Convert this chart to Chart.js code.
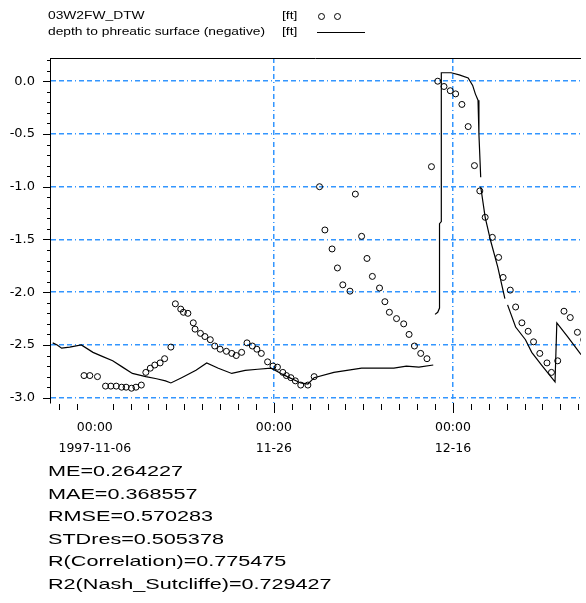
<!DOCTYPE html>
<html lang="en">
<head>
  <meta charset="UTF-8">
  <title>Depth to phreatic surface</title>
  <script src="https://cdn.jsdelivr.net/npm/chart.js"></script>
  <style>
    body { margin: 0; background: #fff; }
    #wrap { position: relative; width: 586px; height: 603px; }
    #wrap canvas { position: absolute; left: 0; top: 0; }
    .txt { position: absolute; white-space: nowrap; font-family: "Liberation Sans", Arial, sans-serif;
           color: #000; transform-origin: 0 50%; }
    .legend { font-size: 10px; line-height: 14px; transform: scaleX(1.38); }
    .stat { font-size: 15px; line-height: 22px; left: 48px; transform: scaleX(1.44); }
    .mark { position: absolute; }
  </style>
</head>
<body>
<div id="wrap">
  <canvas id="depthChart" width="586" height="603"></canvas>

  <!-- legend -->
  <div class="txt legend" style="left:48px; top:9px;">03W2FW_DTW</div>
  <div class="txt legend" style="left:282px; top:9px;">[ft]</div>
  <div class="mark" style="left:318px; top:13px; width:5px; height:5px; border:1px solid #000; border-radius:50%;"></div>
  <div class="mark" style="left:334px; top:13px; width:5px; height:5px; border:1px solid #000; border-radius:50%;"></div>
  <div class="txt legend" style="left:48px; top:25px;">depth to phreatic surface (negative)</div>
  <div class="txt legend" style="left:282px; top:25px;">[ft]</div>
  <div class="mark" style="left:317px; top:32px; width:48px; height:1px; background:#000;"></div>

  <!-- statistics -->
  <div id="stats"></div>
</div>

<script>
  // days after 1997-11-06 00:00
  var obsDays = [-1.2, -0.55, 0.3,
    1.2, 1.8, 2.4, 3.0, 3.5, 4.1, 4.6, 5.2,
    5.7, 6.2, 6.7, 7.3, 7.8, 8.5,
    9.0, 9.6, 9.9, 10.4, 11.0, 11.2, 11.8, 12.3, 12.9, 13.4, 14.0, 14.7, 15.3, 15.8,
    16.4, 17.0, 17.6, 18.1, 18.6, 19.3, 19.9, 20.4, 21.0, 21.4, 21.9, 22.4, 23.0, 23.8, 24.5,
    25.1, 25.7, 26.5, 27.1, 27.7, 28.5,
    29.1, 29.8, 30.4, 31.0, 31.8, 32.4, 32.9, 33.7, 34.5, 35.1, 35.7, 36.4, 37.1,
    37.6, 38.3, 39.0, 39.7, 40.3, 41.0, 41.7, 42.4, 43.0, 43.6, 44.4, 45.1, 45.6, 46.4,
    47.0, 47.7, 48.4, 49.0, 49.7, 50.5, 51.0, 51.7, 52.4, 53.1, 53.9, 54.6];
  var obsDepth = [-2.79, -2.79, -2.80,
    -2.89, -2.89, -2.89, -2.90, -2.90, -2.91, -2.90, -2.88,
    -2.76, -2.72, -2.69, -2.67, -2.63, -2.52,
    -2.11, -2.16, -2.19, -2.20, -2.29, -2.35, -2.39, -2.42, -2.45, -2.51, -2.54, -2.56, -2.58, -2.60,
    -2.57, -2.48, -2.51, -2.54, -2.58, -2.66, -2.70, -2.71, -2.76, -2.79, -2.81, -2.84, -2.88, -2.88, -2.80,
    -1.00, -1.41, -1.59, -1.77, -1.93, -1.99,
    -1.07, -1.47, -1.68, -1.85, -1.96, -2.09, -2.19, -2.25, -2.30, -2.40, -2.51, -2.58, -2.63,
    -0.81, 0.00, -0.05, -0.09, -0.12, -0.22, -0.43, -0.80, -1.04, -1.29, -1.48, -1.67, -1.86, -1.98,
    -2.14, -2.29, -2.37, -2.47, -2.58, -2.67, -2.76, -2.65, -2.18, -2.24, -2.38, -2.45];

  var simDays = [-4.7, -4.2, -3.7, -2.8, -1.5, -0.2, 0.9, 2.0, 3.1, 4.2, 5.7, 6.9, 7.9, 8.5,
    9.7, 11.3, 12.5, 13.8, 15.3, 16.8, 18.2, 19.7, 20.8, 21.5, 23.0, 23.8, 24.5, 26.7,
    29.8, 33.4, 34.8, 36.2, 37.8, 37.9,
    38.0, 38.3, 38.5, 38.5, 38.7, 38.7, 39.8, 40.7, 41.7, 42.2, 42.5, 42.8, 42.9, 43.1, 43.1,
    43.1, 43.6, 44.2, 45.0, 45.8, 46.0,
    46.1, 47.0, 48.1, 48.8, 49.9, 51.4, 51.6, 52.8, 54.2, 55.0];
  var simDepth = [-2.48, -2.50, -2.53, -2.52, -2.50, -2.57, -2.61, -2.65, -2.71, -2.77, -2.80, -2.82, -2.84, -2.86,
    -2.81, -2.74, -2.67, -2.72, -2.77, -2.74, -2.73, -2.72, -2.77, -2.80, -2.86, -2.87, -2.81, -2.76,
    -2.72, -2.72, -2.70, -2.71, -2.69, null,
    -2.21, -2.19, -2.15, -1.35, -1.33, 0.08, 0.08, 0.06, 0.03, -0.04, -0.12, -0.18, -0.50, -0.91, null,
    -1.00, -1.29, -1.51, -1.76, -2.06, null,
    -2.12, -2.33, -2.45, -2.57, -2.69, -2.85, -2.29, -2.42, -2.58, -2.65];

  var xTickLabels = { 0: ['00:00', '1997-11-06'], 20: ['00:00', '11-26'], 40: ['00:00', '12-16'] };

  var statLines = ['ME=0.264227', 'MAE=0.368557', 'RMSE=0.570283', 'STDres=0.505378',
    'R(Correlation)=0.775475', 'R2(Nash_Sutcliffe)=0.729427'];

  // statistics text below the chart
  var stats = document.getElementById('stats');
  statLines.forEach(function(s, i) {
    var d = document.createElement('div');
    d.className = 'txt stat';
    d.style.top = (460 + i * 22.6) + 'px';
    d.textContent = s;
    stats.appendChild(d);
  });

  function toPoints(xs, ys) {
    return xs.map(function(v, i) { return { x: v, y: ys[i] }; });
  }

  var gridBlue = '#3396ff';
  var gridDash = [5, 3, 5, 3, 5, 3, 1, 3];

  // frame line on top and the small tick marks of both axes
  var axisMarks = {
    id: 'axisMarks',
    afterDraw: function(chart) {
      var ctx = chart.ctx, a = chart.chartArea, x = chart.scales.x, y = chart.scales.y;
      ctx.save();
      ctx.strokeStyle = '#000';
      ctx.lineWidth = 1;
      ctx.beginPath();
      ctx.moveTo(a.left, a.top + 0.5);
      ctx.lineTo(a.right, a.top + 0.5);
      for (var i = -30; i <= 2; i++) {
        var py = Math.round(y.getPixelForValue(i / 10)) + 0.5;
        var len = (i % 5 === 0) ? 7 : 3;
        ctx.moveTo(a.left - len, py);
        ctx.lineTo(a.left, py);
      }
      for (var d = -4; d <= 54; d += 2) {
        if (d === 0) continue;
        var px = Math.round(x.getPixelForValue(d)) + 0.5;
        var major = (d % 20 === 0);
        ctx.moveTo(px, a.bottom + (major ? 0 : 1));
        ctx.lineTo(px, a.bottom + (major ? 10 : 7));
      }
      ctx.stroke();
      ctx.restore();
    }
  };

  var ctx = document.getElementById('depthChart').getContext('2d');
  var chart = new Chart(ctx, {
    type: 'scatter',
    data: {
      datasets: [{
        label: '03W2FW_DTW',
        data: toPoints(obsDays, obsDepth),
        pointStyle: 'circle',
        pointRadius: 3,
        pointBorderWidth: 1,
        borderColor: '#000',
        backgroundColor: 'rgba(0,0,0,0)',
        showLine: false
      }, {
        label: 'depth to phreatic surface (negative)',
        data: toPoints(simDays, simDepth),
        showLine: true,
        spanGaps: false,
        borderColor: '#000',
        borderWidth: 1.2,
        pointRadius: 0,
        tension: 0
      }]
    },
    options: {
      responsive: false,
      animation: false,
      layout: { padding: { top: 58, left: 0, right: 0, bottom: 0 } },
      plugins: { legend: { display: false }, tooltip: { enabled: false } },
      scales: {
        x: {
          type: 'linear',
          min: -5,
          max: 54.3,
          afterFit: function(scale) { scale.height = 200; },
          border: { display: false, dash: gridDash },
          grid: {
            drawTicks: false,
            color: function(c) { return c.tick && c.tick.value === 0 ? 'rgba(0,0,0,0)' : gridBlue; },
            lineWidth: 1.5
          },
          ticks: {
            stepSize: 20,
            includeBounds: false,
            autoSkip: false,
            maxRotation: 0,
            padding: 14,
            color: '#000',
            font: { family: 'DejaVu Sans', size: 12.5, lineHeight: '21px' },
            callback: function(v) { return xTickLabels[v] || ''; }
          }
        },
        y: {
          type: 'linear',
          min: -3.05,
          max: 0.22,
          afterFit: function(scale) { scale.width = 50; },
          border: { display: true, color: '#000', width: 1, dash: gridDash },
          grid: { drawTicks: false, color: gridBlue, lineWidth: 1.5 },
          ticks: {
            stepSize: 0.5,
            includeBounds: false,
            padding: 15,
            color: '#000',
            font: { family: 'DejaVu Sans', size: 13 },
            callback: function(v) { return v.toFixed(1); }
          }
        }
      }
    },
    plugins: [axisMarks]
  });
</script>
</body>
</html>
